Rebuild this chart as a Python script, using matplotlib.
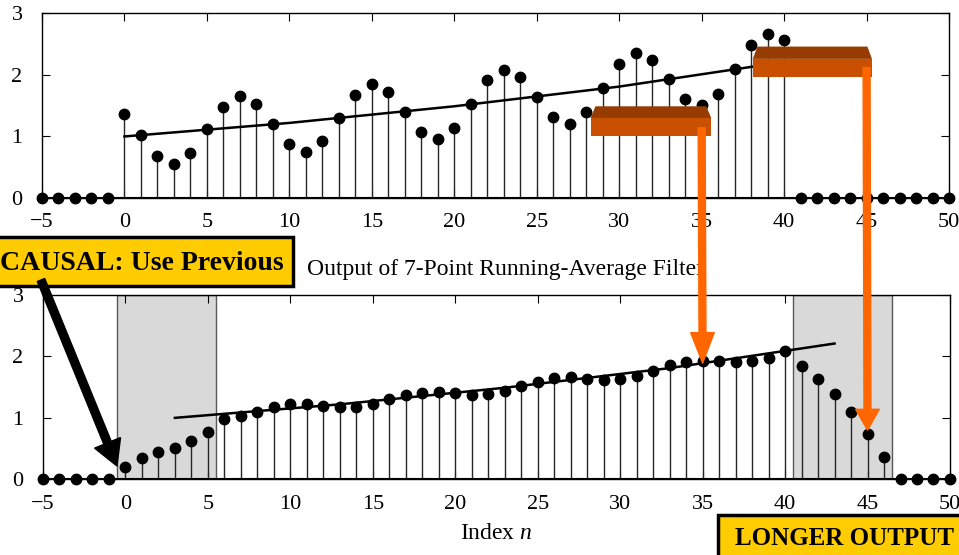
import matplotlib
matplotlib.use('Agg')
import matplotlib.pyplot as plt
from matplotlib.patches import Rectangle, Polygon, FancyArrow

plt.rcParams['font.family'] = ['Liberation Serif', 'DejaVu Serif']
plt.rcParams['mathtext.fontset'] = 'custom'
plt.rcParams['mathtext.rm'] = 'Liberation Serif'
plt.rcParams['mathtext.it'] = 'Liberation Serif:italic'

# sample index
n = list(range(-5, 51))

# input signal x[n], nonzero for n = 0..40
x_in = [0, 0, 0, 0, 0,
        1.36, 1.02, 0.69, 0.56, 0.73, 1.12, 1.48, 1.65, 1.53, 1.20,
        0.87, 0.75, 0.92, 1.30, 1.67, 1.85, 1.73, 1.40, 1.08, 0.96,
        1.14, 1.53, 1.91, 2.08, 1.97, 1.64, 1.32, 1.21, 1.39, 1.78,
        2.17, 2.35, 2.24, 1.93, 1.61, 1.51, 1.69, 2.09, 2.48, 2.67,
        2.56,
        0, 0, 0, 0, 0, 0, 0, 0, 0, 0]

# output of the causal 7-point running average, nonzero for n = 0..46
y_out = [0, 0, 0, 0, 0,
         0.20, 0.34, 0.44, 0.51, 0.62, 0.77, 0.98, 1.03, 1.10, 1.18,
         1.22, 1.22, 1.20, 1.17, 1.17, 1.22, 1.30, 1.38, 1.41, 1.42,
         1.40, 1.38, 1.39, 1.43, 1.52, 1.59, 1.65, 1.66, 1.64, 1.61,
         1.63, 1.68, 1.77, 1.86, 1.91, 1.93, 1.92, 1.91, 1.92, 1.98,
         2.09, 1.85, 1.64, 1.39, 1.10, 0.74, 0.36,
         0, 0, 0, 0]

# trend lines
trend_n_top = [0, 10, 20, 30, 40]
trend_n_bot = [3, 13, 23, 33, 43]
trend_val = [1.0, 1.22, 1.49, 1.81, 2.21]

fig = plt.figure(figsize=(9.59, 5.55), dpi=100)
ax1 = fig.add_axes([0.0438, 0.6432, 0.9458, 0.3328])
ax2 = fig.add_axes([0.0448, 0.1364, 0.9458, 0.3321])

for ax, vals in ((ax1, x_in), (ax2, y_out)):
    ax.vlines(n, 0, vals, colors='0.15', linewidth=1.0, zorder=2)
    ax.plot(n, vals, 'o', color='black', markersize=7.5, zorder=4, clip_on=False)
    ax.axhline(0, color='black', linewidth=1.5, zorder=3)
    ax.set_xlim(-5, 50)
    ax.set_ylim(0, 3)
    ax.set_xticks(range(-5, 51, 5))
    ax.set_yticks([0, 1, 2, 3])
    ax.tick_params(direction='in', top=True, right=True, length=6, width=0.8,
                   labelsize=16, colors='black')
    ax.tick_params(axis='x', pad=11)
    ax.tick_params(axis='y', pad=14)
    for s in ax.spines.values():
        s.set_linewidth(1.0)

ax1.plot(trend_n_top, trend_val, color='black', linewidth=1.8, zorder=3)
ax2.plot(trend_n_bot, trend_val, color='black', linewidth=1.8, zorder=3)

# shaded transient regions
ax2.axvspan(-0.5, 5.5, facecolor='#d9d9d9', edgecolor='0.35', linewidth=1.0, zorder=0)
ax2.axvspan(40.5, 46.5, facecolor='#d9d9d9', edgecolor='0.35', linewidth=1.0, zorder=0)

ax2.text(0.51, 1.08, 'Output of 7-Point Running-Average Filter', transform=ax2.transAxes,
         ha='center', va='bottom', fontsize=17)
ax2.set_xlabel('Index $n$', fontsize=17, labelpad=7)

# orange 3-D bars on top plot
front = '#c85000'
topc = '#963c00'
for x0, x1, y0, y1, yt, inset in ((28.26, 35.58, 1.0, 1.30, 1.49, 0.3),
                                  (38.1, 45.33, 1.96, 2.26, 2.46, 0.28)):
    ax1.add_patch(Polygon([(x0, y1), (x0 + inset, yt), (x1 - inset, yt), (x1, y1)],
                          closed=True, facecolor=topc, edgecolor='none',
                          zorder=6, clip_on=False))
    ax1.add_patch(Rectangle((x0, y0), x1 - x0, y1 - y0, facecolor=front,
                            edgecolor='none', zorder=6, clip_on=False))

# orange arrows from top bars down to output samples
ax2.annotate('', xy=(35, y_out[35 + 5] - 0.04), xycoords='data',
             xytext=(35, 1.14), textcoords=ax1.transData,
             arrowprops=dict(width=5, headwidth=17, headlength=22, color='#ff6600',
                             shrink=0), annotation_clip=False, zorder=8)
ax2.annotate('', xy=(45, y_out[45 + 5] + 0.06), xycoords='data',
             xytext=(45, 2.12), textcoords=ax1.transData,
             arrowprops=dict(width=5, headwidth=17, headlength=15, color='#ff6600',
                             shrink=0), annotation_clip=False, zorder=8)

# yellow labels (figure inches, origin bottom-left)
tr = fig.dpi_scale_trans
fig.add_artist(Rectangle((-0.05, 5.55 - 2.86), 2.98, 0.49, transform=tr,
                         facecolor='#ffcc00', edgecolor='black', linewidth=2.5, zorder=10))
fig.text(0.0, 5.55 - 2.695, 'CAUSAL: Use Previous', transform=tr, fontsize=20,
         fontweight='bold', ha='left', va='baseline', zorder=11)
fig.add_artist(FancyArrow(0.41, 5.55 - 2.80, 0.76, -1.86, width=0.08,
                          head_width=0.28, head_length=0.25, length_includes_head=True,
                          transform=tr, color='black', zorder=10))

fig.add_artist(Rectangle((7.18, 5.55 - 5.65), 2.6, 0.50, transform=tr,
                         facecolor='#ffcc00', edgecolor='black', linewidth=2.5, zorder=10))
fig.text(7.35, 5.55 - 5.45, 'LONGER OUTPUT', transform=tr, fontsize=18,
         fontweight='bold', ha='left', va='baseline', zorder=11)

fig.savefig('out.png', dpi=100)
